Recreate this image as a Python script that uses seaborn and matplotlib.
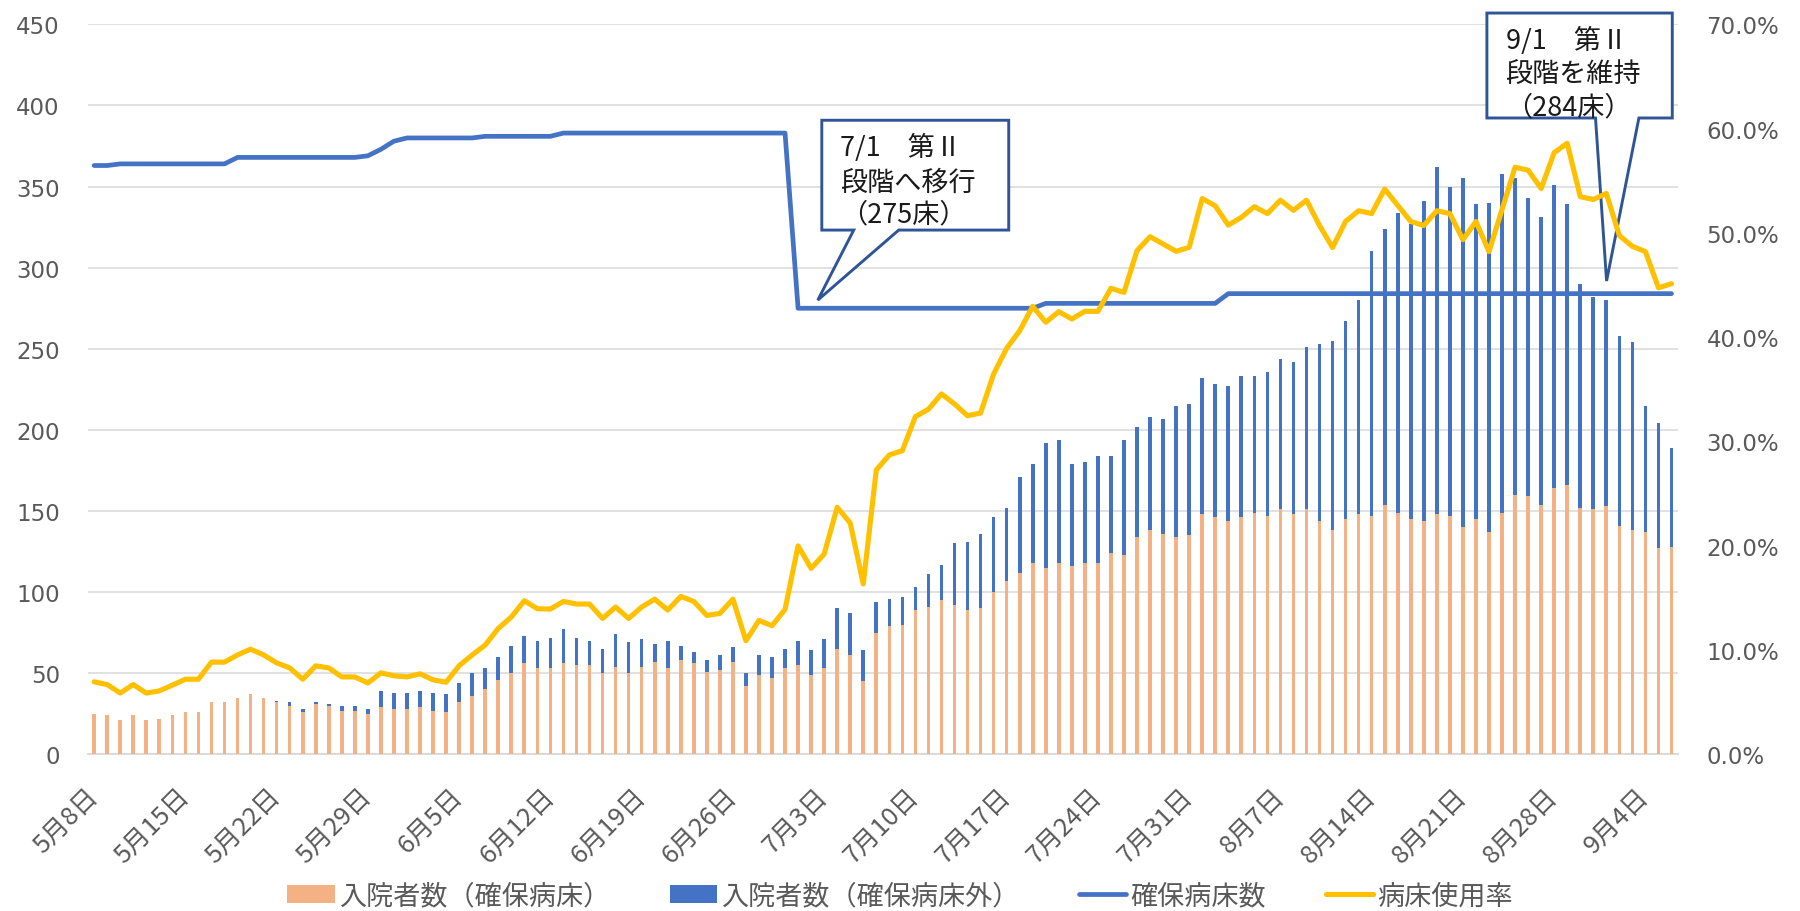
import numpy as np
import pandas as pd
import matplotlib
matplotlib.use("Agg")
import matplotlib.pyplot as plt
import seaborn as sns
from matplotlib.patches import Polygon, Patch
from matplotlib.lines import Line2D
from matplotlib.ticker import FuncFormatter
from matplotlib.transforms import ScaledTranslation

# ---------------- data ----------------
dates = pd.date_range("2021-05-08", "2021-09-06", freq="D")

# 入院者数（確保病床）
secured = [25, 24, 21, 24, 21, 22, 24, 26, 26, 32,
           32, 35, 37, 35, 32, 30, 26, 31, 30, 27,
           27, 25, 29, 28, 28, 29, 27, 26, 32, 36,
           40, 46, 50, 56, 53, 53, 56, 55, 55, 50,
           54, 50, 54, 57, 53, 58, 56, 51, 52, 57,
           42, 49, 47, 53, 55, 49, 53, 65, 61, 45,
           75, 79, 80, 89, 91, 95, 92, 89, 90, 100,
           107, 112, 118, 115, 118, 116, 118, 118, 124, 123,
           134, 138, 136, 134, 135, 148, 146, 144, 146, 149,
           147, 151, 148, 151, 144, 138, 145, 148, 147, 154,
           149, 145, 144, 148, 147, 140, 145, 137, 149, 160,
           159, 154, 164, 166, 152, 151, 153, 141, 138, 137,
           127, 128]

# 入院者数（確保病床外）
other = [0, 0, 0, 0, 0, 0, 0, 0, 0, 0,
         0, 0, 0, 0, 1, 2, 2, 1, 1, 3,
         3, 3, 10, 10, 10, 10, 11, 11, 12, 14,
         13, 14, 17, 17, 17, 19, 21, 17, 15, 15,
         20, 19, 17, 11, 17, 9, 7, 7, 9, 9,
         8, 12, 13, 12, 15, 15, 18, 25, 26, 19,
         19, 17, 17, 14, 20, 22, 38, 42, 46, 46,
         45, 59, 61, 77, 76, 63, 62, 66, 60, 71,
         68, 70, 71, 81, 81, 84, 82, 83, 87, 84,
         89, 93, 94, 100, 109, 117, 122, 132, 163, 170,
         185, 182, 197, 214, 203, 215, 194, 203, 209, 195,
         184, 177, 187, 173, 138, 131, 127, 117, 116, 78,
         77, 61]

# 確保病床数
beds = ([363] * 2 + [364] * 9 + [368] * 10 + [369, 373, 378] + [380] * 6 +
        [381] * 6 + [383] * 18 + [275] * 19 + [278] * 14 + [284] * 35)

# 病床使用率 (%)
rate = [6.95, 6.69, 5.87, 6.69, 5.87, 6.08, 6.63, 7.2, 7.2, 8.84,
        8.84, 9.53, 10.08, 9.53, 8.77, 8.29, 7.2, 8.48, 8.29, 7.42,
        7.42, 6.84, 7.81, 7.53, 7.42, 7.72, 7.14, 6.91, 8.5, 9.52,
        10.48, 12.07, 13.16, 14.73, 13.96, 13.93, 14.66, 14.41, 14.41, 13.03,
        14.12, 13.03, 14.12, 14.88, 13.83, 15.14, 14.66, 13.32, 13.51, 14.88,
        10.89, 12.84, 12.33, 13.9, 19.99, 17.83, 19.2, 23.69, 22.18, 16.34,
        27.27, 28.71, 29.12, 32.39, 33.09, 34.56, 33.6, 32.47, 32.73, 36.47,
        38.94, 40.62, 42.96, 41.43, 42.45, 41.75, 42.48, 42.48, 44.69, 44.3,
        48.3, 49.64, 48.94, 48.24, 48.62, 53.3, 52.6, 50.75, 51.49, 52.52,
        51.86, 53.14, 52.17, 53.14, 50.71, 48.6, 51.1, 52.13, 51.86, 54.21,
        52.64, 51.1, 50.71, 52.13, 51.86, 49.36, 51.1, 48.21, 52.25, 56.3,
        56.02, 54.26, 57.7, 58.6, 53.48, 53.21, 53.79, 49.75, 48.71, 48.21,
        44.74, 45.13]

series_labels = ["入院者数（確保病床）", "入院者数（確保病床外）", "確保病床数", "病床使用率"]
left_ticks = [0, 50, 100, 150, 200, 250, 300, 350, 400, 450]
right_ticks = [0, 10, 20, 30, 40, 50, 60, 70]
tick_step = 7

callout_texts = [["7/1\u3000第Ⅱ", "段階へ移行", "（275床）"],
                 ["9/1\u3000第Ⅱ", "段階を維持", "（284床）"]]

# ---------------- style ----------------
C_ORANGE = "#F4B183"
C_BLUE = "#4472C4"
C_YELLOW = "#FFC000"
C_GRID = "#D9D9D9"
C_TEXT = "#595959"
C_CALL = "#2F5597"

sns.set_theme(style="white")
plt.rcParams["font.family"] = ["DejaVu Sans", "Noto Sans CJK JP"]
CJK = ["Noto Sans CJK JP", "DejaVu Sans"]

n = len(dates)
df = pd.DataFrame({"pos": np.arange(n), "secured": secured, "other": other,
                   "beds": beds, "rate": rate})
df["total"] = df["secured"] + df["other"]

fig = plt.figure(figsize=(18, 9.12), dpi=100)
ax = fig.add_axes([0.04867, 0.17182, 0.88356, 0.80033])

sns.barplot(data=df, x="pos", y="total", color=C_BLUE, width=0.28, saturation=1,
            errorbar=None, linewidth=0, ax=ax, zorder=3)
sns.barplot(data=df, x="pos", y="secured", color=C_ORANGE, width=0.28, saturation=1,
            errorbar=None, linewidth=0, ax=ax, zorder=3)
sns.lineplot(data=df, x="pos", y="beds", color=C_BLUE, lw=3.4, ax=ax, zorder=4,
             solid_joinstyle="round")

ax2 = ax.twinx()
sns.lineplot(data=df, x="pos", y="rate", color=C_YELLOW, lw=3.7, ax=ax2, zorder=4,
             solid_joinstyle="round")

ax.set_xlim(-0.5, n - 0.5)
ax.set_ylim(0, 450)
ax2.set_ylim(0, 70)
ax.set_yticks(left_ticks)
ax2.set_yticks(right_ticks)
ax2.yaxis.set_major_formatter(FuncFormatter(lambda v, p: f"{v:.1f}%"))

tick_pos = np.arange(0, n, tick_step)
ax.set_xticks(tick_pos)
ax.set_xticklabels([f"{d.month}月{d.day}日" for d in dates[tick_pos]], rotation=45,
                   ha="right", va="center", rotation_mode="anchor",
                   fontsize=18.5, color=C_TEXT, family=CJK)
for lab in ax.get_xticklabels():
    lab.set_transform(lab.get_transform() + ScaledTranslation(-0.05, 0, fig.dpi_scale_trans))

ax.tick_params(axis="x", length=0, pad=27)
ax.tick_params(axis="y", length=0, pad=20, labelsize=16.5, labelcolor=C_TEXT)
ax2.tick_params(axis="y", length=0, pad=20.5, labelsize=16.5, labelcolor=C_TEXT)
ax.set_xlabel("")
ax.set_ylabel("")
ax2.set_ylabel("")

ax.grid(axis="y", color=C_GRID, lw=1.1)
ax.grid(axis="x", visible=False)
ax2.grid(False)
ax.set_axisbelow(True)
for s in ["top", "left", "right"]:
    ax.spines[s].set_visible(False)
for s in ax2.spines.values():
    s.set_visible(False)
ax.spines["bottom"].set_color(C_GRID)
ax.spines["bottom"].set_linewidth(1.3)

# ---------------- callouts ----------------
# (box left, right, top, bottom, pointer base x1, x2, tip x, tip y) in axis units
callout_shapes = [
    (55.82, 70.16, 390.9, 323.2, 58.27, 61.72, 55.51, 280.0),
    (106.84, 121.06, 457.0, 392.3, 115.17, 118.50, 116.02, 291.8),
]
text_x_off = 1.43
text_y_off = [-16.5, -38.0, -58.0]
for (l, r, t, b, p1, p2, tx, ty), lines in zip(callout_shapes, callout_texts):
    verts = [(l, t), (r, t), (r, b), (p2, b), (tx, ty), (p1, b), (l, b)]
    poly = Polygon(verts, closed=True, facecolor="white", edgecolor=C_CALL,
                   lw=2.1, zorder=5, clip_on=False, joinstyle="miter")
    ax.add_patch(poly)
    for line, dy in zip(lines, text_y_off):
        ax.text(l + text_x_off, t + dy, line, fontsize=19.5, family=CJK,
                color="#1a1a1a", ha="left", va="center", zorder=6, clip_on=False)

# ---------------- legend ----------------
handles = [Patch(facecolor=C_ORANGE, edgecolor="none"),
           Patch(facecolor=C_BLUE, edgecolor="none"),
           Line2D([], [], color=C_BLUE, lw=3.4),
           Line2D([], [], color=C_YELLOW, lw=3.7)]
leg = fig.legend(handles, series_labels, loc="center", bbox_to_anchor=(0.5, 15 / 912),
                 ncol=4, frameon=False, handlelength=1.75, handleheight=0.65,
                 handletextpad=0.15, columnspacing=2.2,
                 prop={"family": CJK, "size": 19.5})
for t in leg.get_texts():
    t.set_color(C_TEXT)

fig.savefig("out.png", dpi=100)
